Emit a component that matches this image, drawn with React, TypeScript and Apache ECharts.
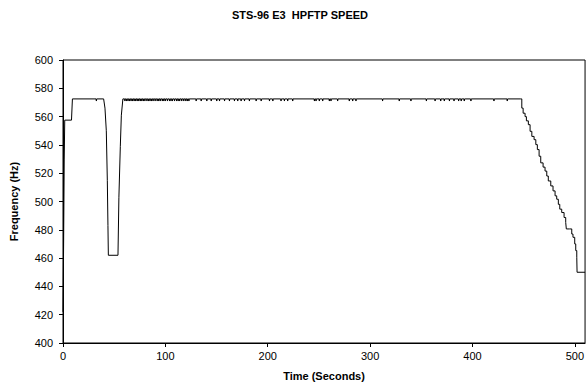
import React, { useEffect, useRef } from "react";
import * as echarts from "echarts";

const titleText = "STS-96 E3  HPFTP SPEED";
const xName = "Time (Seconds)";
const yName = "Frequency (Hz)";
const xTicks = [0, 100, 200, 300, 400, 500];

// main shape of the trace [time s, frequency Hz]
const startPts: number[][] = [
  [0, 422], [0.6, 470], [1.2, 530], [1.7, 557.5], [8.3, 557.5], [9.2, 572.5],
];
const dropPts: number[][] = [
  [39.7, 572.5], [41, 566], [42.3, 550], [43.3, 515], [43.9, 483], [44.3, 462],
  [53.7, 462], [54.6, 503], [56, 539], [57, 561], [58.5, 572.5],
];
const plateauEnd: number[][] = [[447.2, 572.5]];
// shutdown ramp (drawn as a staircase)
const decayPts: number[][] = [
  [447.2, 572.5], [448.2, 566], [449.5, 562.4], [451.4, 560], [452.7, 557],
  [454.6, 554.3], [456.3, 549.6], [458, 546], [460.2, 543.7], [461.9, 540.2],
  [463.4, 536.7], [465.1, 532], [466.7, 527.3], [469, 524.3], [470.9, 521.5],
  [472.6, 518], [474.1, 514.5], [476.5, 511], [478.7, 507.5], [480.7, 504],
  [482.3, 501.6], [483.9, 498], [485.3, 494.6], [487.2, 492.2], [489.5, 488.7],
  [491.1, 485.2], [491.7, 480.6], [495, 480.6], [497, 477], [498.2, 474.7],
  [499.9, 470], [500.9, 465.3], [501.9, 460.6], [502.2, 450], [510, 450],
];
// brief dips on the 572.5 Hz plateau
const plateauLevel = 572.5;
const dipLevel = 571;
const dipTimes = [
  32.6,
  60.5, 62, 63.5, 65, 66.5, 68, 69.5, 71, 72.5, 74, 75.5, 77, 78.5, 80, 82, 83.5,
  85, 86.5, 88, 90, 92, 93.5, 95, 97, 98.5, 100, 102, 104, 105.5, 107, 109, 111,
  112.5, 114, 116, 118, 120, 121.5, 123,
  130.1, 135, 140.5, 144.8, 150.2, 152.9, 157.8, 162.6, 167.5, 170.7, 174, 177.3,
  182.1, 188.7, 193.6, 201.7, 205, 213, 216.3, 219.5, 224.4, 245.6, 247.2, 250.4,
  253.7, 260.2, 261.8, 268.3, 279.7, 283, 286.2, 312.2, 328.5, 339.9, 355, 363.5,
  369, 372.5, 377.5, 382, 386.5, 389, 392, 398.5, 421, 434,
];

function buildData(): number[][] {
  const pts: number[][] = [...startPts, ...dropPts, ...plateauEnd];
  dipTimes.forEach((t) => {
    pts.push([t - 0.3, plateauLevel], [t, dipLevel], [t + 0.3, plateauLevel]);
  });
  pts.sort((a, b) => a[0] - b[0]);
  return pts;
}

const FONT = "Liberation Sans, Arial, sans-serif";

export default function App() {
  const ref = useRef<HTMLDivElement>(null);
  useEffect(() => {
    if (!ref.current) return;
    const chart = echarts.init(ref.current, undefined, { renderer: "svg" });
    chart.setOption({
      animation: false,
      backgroundColor: "#fff",
      graphic: [
        {
          type: "text",
          x: 300,
          y: 15,
          style: {
            text: titleText,
            textAlign: "center",
            textVerticalAlign: "middle",
            font: `bold 11px ${FONT}`,
            fill: "#000",
          },
        },
      ],
      grid: {
        left: 63,
        right: 1,
        top: 60,
        bottom: 41,
        show: true,
        borderColor: "#000",
        borderWidth: 1,
        backgroundColor: "transparent",
      },
      xAxis: {
        type: "value",
        min: 0,
        max: 510,
        interval: 100,
        name: xName,
        nameLocation: "middle",
        nameGap: 27,
        nameTextStyle: { fontWeight: "bold", fontSize: 11, color: "#000", fontFamily: FONT },
        axisLine: { show: true, onZero: false, lineStyle: { color: "#000", width: 1 } },
        axisTick: { show: true, length: 4, customValues: xTicks, lineStyle: { color: "#000" } },
        axisLabel: {
          color: "#000",
          fontSize: 11,
          fontFamily: FONT,
          margin: 7,
          customValues: xTicks,
          formatter: (v: number) => (v % 100 === 0 ? String(v) : ""),
        },
        splitLine: { show: false },
      },
      yAxis: {
        type: "value",
        min: 400,
        max: 600,
        interval: 20,
        name: yName,
        nameLocation: "middle",
        nameGap: 44,
        nameTextStyle: { fontWeight: "bold", fontSize: 11, color: "#000", fontFamily: FONT },
        axisLine: { show: true, lineStyle: { color: "#000", width: 1 } },
        axisTick: { show: true, length: 4, lineStyle: { color: "#000" } },
        axisLabel: { color: "#000", fontSize: 11, fontFamily: FONT, margin: 10 },
        splitLine: { show: false },
      },
      series: [
        {
          type: "line",
          data: buildData(),
          symbol: "none",
          showSymbol: false,
          silent: true,
          lineStyle: { color: "#000", width: 1 },
        },
        {
          type: "line",
          data: decayPts,
          step: "end",
          symbol: "none",
          showSymbol: false,
          silent: true,
          lineStyle: { color: "#000", width: 1 },
        },
      ],
    });
    return () => chart.dispose();
  }, []);
  return (
    <div
      ref={ref}
      style={{ position: "fixed", left: 0, top: 0, width: 587, height: 386, background: "#fff" }}
    />
  );
}
